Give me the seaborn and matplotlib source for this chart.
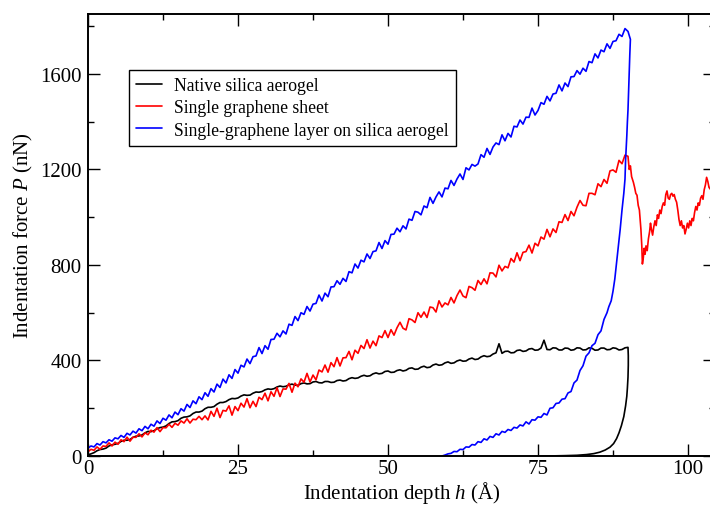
import numpy as np
import pandas as pd
import matplotlib
matplotlib.use("Agg")
import matplotlib.pyplot as plt
import seaborn as sns
from matplotlib.ticker import MultipleLocator

# ---------------- data ----------------
labels = ["Native silica aerogel", "Single graphene sheet",
          "Single-graphene layer on silica aerogel"]
colors = ["#000000", "#ff0000", "#0000ff"]

# loading branches sampled every 0.5 Angstrom starting at h = 0
step = 0.5

black_load = [5, 9, 14, 22, 27, 29, 33, 42, 47, 49, 53, 61, 66, 66, 69, 78, 83, 84, 88, 97,
              103, 102, 106, 114, 119, 121, 126, 136, 143, 144, 148, 158, 163, 164, 168, 178,
              184, 184, 188, 198, 204, 204, 207, 217, 224, 224, 228, 236, 241, 240, 243, 251,
              256, 254, 255, 263, 268, 267, 270, 277, 281, 279, 282, 289, 293, 290, 292, 298,
              301, 297, 296, 303, 306, 302, 303, 310, 312, 307, 306, 312, 312, 308, 309, 316,
              318, 314, 316, 324, 328, 325, 327, 334, 338, 334, 336, 344, 348, 344, 346, 354,
              356, 350, 351, 358, 361, 356, 359, 367, 369, 363, 364, 372, 376, 370, 372, 381,
              385, 380, 382, 390, 394, 388, 390, 398, 402, 397, 398, 406, 410, 404, 406, 415,
              420, 416, 418, 427, 432, 470, 430, 438, 439, 432, 433, 442, 444, 438, 440, 448,
              450, 443, 444, 452, 485, 446, 445, 453, 452, 444, 444, 452, 451, 443, 445, 453,
              452, 444, 445, 453, 451, 443, 444, 452, 452, 445, 446, 453, 451, 444, 446, 453, 455]
black_unload_h = [90.05, 90.05, 90.0, 89.9, 89.8, 89.6, 89.3, 88.9, 88.5, 88.1, 87.6, 87.0,
                  86.2, 85.3, 84.3, 83.1, 81.5, 79.5, 77.5, 75.5]
black_unload_p = [420, 380, 330, 285, 250, 210, 165, 127, 97, 73, 52, 37, 25, 16, 10, 6, 3,
                  1.5, 0.5, 0]

red_load = [18, 28, 24, 38, 28, 42, 40, 55, 42, 58, 49, 68, 60, 79, 62, 79, 78, 93, 80, 97,
            89, 108, 100, 119, 102, 119, 118, 133, 120, 137, 129, 147, 138, 156, 138, 154,
            152, 166, 152, 168,
            151, 187, 166, 200, 161, 191, 188, 210, 171, 207, 190, 221, 205, 240, 202, 229,
            207, 246, 236, 263,
            231, 269, 250, 286, 249, 281, 280, 304, 267, 305, 290, 323, 309, 346, 310, 339,
            319, 360, 352, 381,
            351, 391, 374, 412, 377, 411, 412, 438, 403, 443, 430, 463, 450, 487, 452, 481,
            462, 503, 496, 525,
            496, 529, 506, 537, 560, 535, 528, 575, 570, 559, 600, 581, 603, 580, 624, 621,
            603, 650, 624, 641,
            633, 664, 641, 672, 695, 670, 663, 710, 705, 694, 735, 718, 742, 721, 767, 766,
            750, 799, 775, 794,
            788, 827, 812, 851, 818, 853, 856, 883, 850, 891, 880, 917, 908, 949, 918, 951,
            936, 981, 978, 1011,
            986, 1024, 1006, 1042, 1070, 1050, 1048, 1100, 1100, 1094, 1140, 1128, 1158, 1142,
            1194, 1198, 1188, 1238, 1224, 1260]
red_post_h = [90.0, 90.2, 90.4, 90.6, 90.9, 91.1, 91.3, 91.5, 91.7, 91.9, 92.0, 92.15, 92.3,
              92.4, 92.55, 92.7, 92.85, 93.0, 93.2, 93.4, 93.6, 93.75, 93.9, 94.1, 94.3, 94.5,
              94.7, 94.9, 95.1, 95.3, 95.5, 95.7, 95.9, 96.1, 96.3, 96.5, 96.7, 96.9, 97.1,
              97.3, 97.5, 97.7, 97.9, 98.1, 98.3, 98.5, 98.7, 98.9, 99.1, 99.3, 99.5, 99.7,
              99.9, 100.1, 100.3, 100.5, 100.7, 100.9, 101.1, 101.3, 101.5, 101.7, 101.9,
              102.1, 102.3, 102.5, 102.7, 102.9, 103.1, 103.3, 103.5, 103.7, 103.9, 104.2]
red_post_p = [1255, 1200, 1215, 1170, 1146, 1125, 1100, 1092, 1050, 1030, 1000, 950, 880,
              804, 830, 870, 845, 880, 860, 909, 940, 975, 950, 925, 960, 985, 965, 1010, 995,
              1030, 1015, 1045, 1060, 1050, 1095, 1110, 1080, 1075, 1095, 1100, 1088, 1095,
              1075, 1063, 1030, 990, 965, 985, 955, 965, 930, 950, 975, 955, 985, 965, 995,
              985, 1020, 1045, 1030, 1060, 1050, 1080, 1090, 1075, 1115, 1135, 1167, 1150,
              1125, 1118, 1140, 1160]

blue_load = [33, 42, 38, 52, 46, 60, 55, 68, 62, 76, 72, 86, 78, 95, 88, 104, 96, 114, 106, 124,
             114, 133, 125, 147, 136, 158, 150, 172, 160, 184, 173, 198, 188, 216, 203, 231,
             219, 248, 236, 265, 250, 282, 268, 301, 287, 322, 306, 340, 325, 362,
             347, 380, 373, 406, 387, 416, 419, 454, 429, 462, 447, 488, 489, 514, 499, 524,
             511, 552, 547, 584, 567, 600, 593, 626, 607, 636, 639, 674, 649, 682, 667, 708,
             709, 734, 719, 744, 731, 772, 767, 804, 787, 820, 813, 846, 827, 856, 859, 894,
             869, 902, 887, 928, 929, 954, 939, 964, 951, 992, 987, 1024,
             1021, 1010, 1047, 1040, 1083, 1058, 1085, 1106, 1085, 1122, 1119, 1154, 1133,
             1160, 1181, 1158, 1207, 1198, 1221, 1214,
             1223, 1262, 1251, 1288, 1263, 1294, 1311, 1304, 1345, 1320, 1351, 1336, 1381,
             1378, 1407, 1390, 1419, 1418, 1457, 1428,
             1447, 1480, 1473, 1506, 1487, 1516, 1519, 1554, 1529, 1562, 1547, 1588, 1589,
             1614, 1599, 1624, 1611, 1652, 1647, 1684, 1667, 1700, 1693, 1726, 1707, 1736,
             1739, 1766, 1757, 1790, 1778]
blue_unload_h = [90.4, 90.3, 90.2, 90.1, 90.0, 89.9, 89.8, 89.6, 89.5, 89.3, 89.0, 88.7, 88.4,
                 88.1, 87.8, 87.5, 87.2, 86.8, 86.5, 86.0, 85.5, 85.0, 84.5, 84.0, 83.5, 83.0,
                 82.5, 82.0, 81.5, 81.0, 80.5, 80.0, 79.5, 79.0, 78.5, 78.0, 77.5, 77.0, 76.5,
                 76.0, 75.5, 75.0, 74.5, 74.0, 73.5, 73.0, 72.5, 72.0, 71.5, 71.0, 70.5, 70.0,
                 69.5, 69.0, 68.5, 68.0, 67.5, 67.0, 66.5, 66.0, 65.5, 65.0, 64.5, 64.0, 63.5,
                 63.0, 62.5, 62.0, 61.5, 61.0, 60.5, 60.0, 59.5, 59.0]
blue_unload_p = [1745, 1680, 1600, 1520, 1450, 1400, 1340, 1240, 1160, 1100, 1030, 950, 880,
                 810, 741, 690, 650, 625, 600, 572, 524, 508, 472, 462, 432, 418, 378, 358, 318,
                 306, 270, 264, 240, 238, 222, 220, 202, 200, 172, 178, 162, 164, 150, 152, 134,
                 143, 126, 130, 117, 120, 107, 111, 99, 103, 88, 93, 78, 82, 67, 72, 57, 60, 46,
                 48, 37, 38, 27, 28, 18, 19, 11, 9, 4, 0]

x_ticks = [0, 25, 50, 75, 100]
y_ticks = [0, 400, 800, 1200, 1600]

# ---------------- build series ----------------
def series(load, unload_h, unload_p):
    h = list(np.arange(len(load)) * step) + list(unload_h)
    p = list(load) + list(unload_p)
    return pd.DataFrame({"h": h, "P": p})

dfs = [series(black_load, black_unload_h, black_unload_p),
       series(red_load, red_post_h, red_post_p),
       series(blue_load, blue_unload_h, blue_unload_p)]

# ---------------- style ----------------
sns.set_theme(style="ticks")
plt.rcParams.update({
    "font.family": ["Liberation Serif", "DejaVu Serif"],
    "mathtext.fontset": "custom",
    "mathtext.rm": "Liberation Serif",
    "mathtext.it": "Liberation Serif:italic",
    "axes.linewidth": 1.4,
    "axes.edgecolor": "black",
    "text.color": "black",
    "axes.labelcolor": "black",
    "xtick.color": "black",
    "ytick.color": "black",
})

fig = plt.figure(figsize=(7.1, 5.06), dpi=100)
ax = fig.add_axes([88 / 710, 49 / 506, (715 - 88) / 710, 442 / 506])

for df, lab, col in zip(dfs, labels, colors):
    sns.lineplot(data=df, x="h", y="P", sort=False, estimator=None, color=col,
                 linewidth=1.2, label=lab, ax=ax)

ax.set_xlim(0, 104.5)
ax.set_ylim(0, 1851)
ax.set_xticks(x_ticks)
ax.set_yticks(y_ticks)
ax.xaxis.set_minor_locator(MultipleLocator(12.5))
ax.yaxis.set_minor_locator(MultipleLocator(200))
ax.tick_params(which="both", direction="in", top=True, right=True, width=1.0,
               labelsize=15)
ax.tick_params(which="major", length=8.6)
ax.tick_params(which="minor", length=4.3)
ax.tick_params(axis="x", pad=2)
ax.tick_params(axis="y", pad=4.5)

ax.set_xlabel(r"Indentation depth $h$ (Å)", fontsize=15, labelpad=1)
ax.set_ylabel(r"Indentation force $P$ (nN)", fontsize=15, labelpad=4)

leg = ax.legend(loc="upper left", bbox_to_anchor=(129 / 710, 1 - 71 / 506),
                bbox_transform=fig.transFigure, borderaxespad=0, fontsize=12.7,
                frameon=True, fancybox=False, shadow=False, framealpha=1,
                edgecolor="black", handlelength=1.45, handletextpad=0.7,
                borderpad=0.4, labelspacing=0.3)
leg.get_frame().set_linewidth(1.0)
for line in leg.get_lines():
    line.set_linewidth(1.2)

fig.savefig("out.png", dpi=100)
